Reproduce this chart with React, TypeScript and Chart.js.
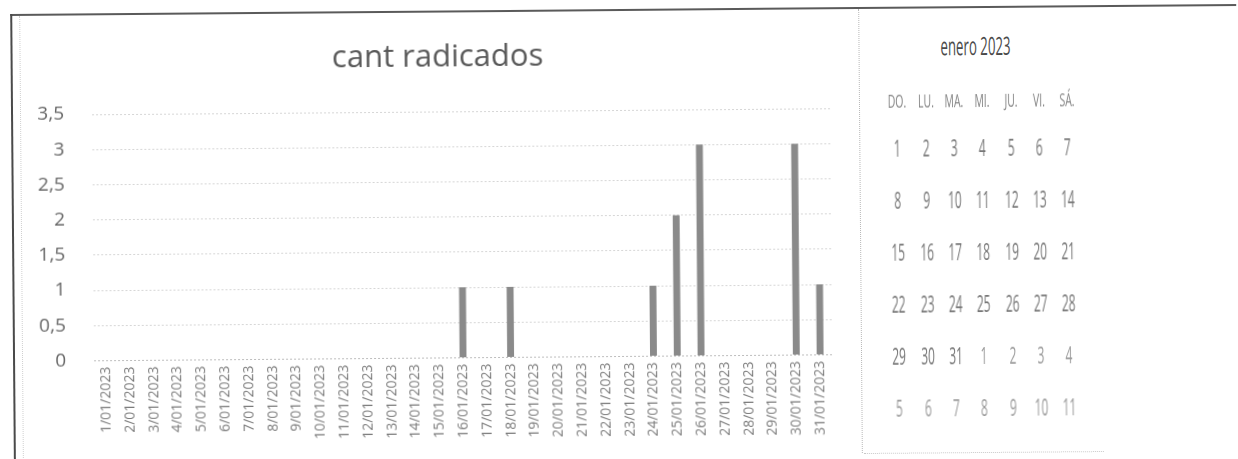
import React, { useEffect, useRef } from "react";
import { Chart, registerables } from "chart.js";

Chart.register(...registerables);

const chartTitle = "cant radicados";
const categories = [
  "1/01/2023", "2/01/2023", "3/01/2023", "4/01/2023", "5/01/2023", "6/01/2023",
  "7/01/2023", "8/01/2023", "9/01/2023", "10/01/2023", "11/01/2023", "12/01/2023",
  "13/01/2023", "14/01/2023", "15/01/2023", "16/01/2023", "17/01/2023", "18/01/2023",
  "19/01/2023", "20/01/2023", "21/01/2023", "22/01/2023", "23/01/2023", "24/01/2023",
  "25/01/2023", "26/01/2023", "27/01/2023", "28/01/2023", "29/01/2023", "30/01/2023",
  "31/01/2023",
];
const values = [
  0, 0, 0, 0, 0, 0, 0, 0, 0, 0, 0, 0, 0, 0, 0, 1, 0, 1, 0, 0, 0, 0, 0, 1, 2, 3, 0, 0, 0, 3, 1,
];
const yMin = 0;
const yMax = 3.5;
const yStep = 0.5;

const calendarTitle = "enero 2023";
const weekDays = ["DO.", "LU.", "MA.", "MI.", "JU.", "VI.", "SÁ."];
const calendarRows = [
  ["1", "2", "3", "4", "5", "6", "7"],
  ["8", "9", "10", "11", "12", "13", "14"],
  ["15", "16", "17", "18", "19", "20", "21"],
  ["22", "23", "24", "25", "26", "27", "28"],
  ["29", "30", "31", "1", "2", "3", "4"],
  ["5", "6", "7", "8", "9", "10", "11"],
];
// true = day belongs to the next month (drawn lighter)
const otherMonth = [
  [false, false, false, false, false, false, false],
  [false, false, false, false, false, false, false],
  [false, false, false, false, false, false, false],
  [false, false, false, false, false, false, false],
  [false, false, false, true, true, true, true],
  [true, true, true, true, true, true, true],
];

const colX = [898, 927, 955, 983, 1012, 1040, 1068];
const rowY = [150, 202, 254, 306, 358, 410];

const FONT = "'Open Sans', 'Noto Sans', sans-serif";

function CondText(props: {
  x: number;
  y: number;
  size: number;
  color: string;
  scale: number;
  children: React.ReactNode;
}) {
  const { x, y, size, color, scale, children } = props;
  return (
    <div
      style={{
        position: "absolute",
        left: x - 100,
        top: y - size * 0.7,
        width: 200,
        height: size * 1.4,
        lineHeight: `${size * 1.4}px`,
        textAlign: "center",
        fontFamily: FONT,
        fontSize: size,
        color,
        whiteSpace: "nowrap",
        transform: `scaleX(${scale})`,
        transformOrigin: "100px 50%",
      }}
    >
      {children}
    </div>
  );
}

const titlePlugin = {
  id: "offsetTitle",
  afterDraw(chart: any) {
    const ctx = chart.ctx;
    ctx.save();
    ctx.font = `31px ${FONT}`;
    ctx.fillStyle = "#595959";
    ctx.textAlign = "center";
    ctx.textBaseline = "middle";
    ctx.fillText(chartTitle, 426, 46);
    ctx.restore();
  },
};

export default function App() {
  const canvasRef = useRef<HTMLCanvasElement | null>(null);

  useEffect(() => {
    if (!canvasRef.current) return;
    const chart = new Chart(canvasRef.current, {
      type: "bar",
      data: {
        labels: categories,
        datasets: [
          {
            data: values,
            backgroundColor: "#8a8a8a",
            borderWidth: 0,
            categoryPercentage: 1,
            barPercentage: 0.29,
          },
        ],
      },
      plugins: [titlePlugin],
      options: {
        animation: false,
        responsive: false,
        layout: { padding: { left: 0, right: 29, top: 100, bottom: 0 } },
        plugins: {
          legend: { display: false },
          tooltip: { enabled: false },
          title: { display: false },
        },
        scales: {
          x: {
            grid: { display: false, drawTicks: false },
            border: { display: false },
            ticks: {
              autoSkip: false,
              minRotation: 90,
              maxRotation: 90,
              padding: 6,
              color: "#7a7a7a",
              font: { family: FONT, size: 14 },
            },
            afterFit: (scale: any) => {
              scale.height = 98.5;
            },
          },
          y: {
            min: yMin,
            max: yMax,
            grid: {
              drawTicks: false,
              color: (ctx: any) => (ctx.tick && ctx.tick.value === 0 ? "#bdbdbd" : "#d6d6d6"),
              lineWidth: 1,
            },
            border: { display: false, dash: [2, 2] },
            ticks: {
              stepSize: yStep,
              padding: 28,
              color: "#666666",
              font: { family: FONT, size: 19 },
              callback: (v: any) => String(v).replace(".", ","),
            },
            afterFit: (scale: any) => {
              scale.width = 80;
            },
          },
        },
      },
    });
    return () => chart.destroy();
  }, []);

  return (
    <div
      style={{
        position: "absolute",
        left: 0,
        top: 0,
        width: 1238,
        height: 459,
        background: "#ffffff",
        overflow: "hidden",
        transform: "rotate(-0.47deg)",
        transformOrigin: "619px 229.5px",
      }}
    >
      {/* top border */}
      <div style={{ position: "absolute", left: 12, top: 9, width: 1240, height: 2, background: "#5a5a5a" }} />
      {/* left border */}
      <div style={{ position: "absolute", left: 12, top: 9, width: 2, height: 470, background: "#4a4a4a" }} />
      {/* inner faint left line */}
      <div style={{ position: "absolute", left: 21, top: 11, width: 0, height: 460, borderLeft: "1px dotted #d0d0d0" }} />
      {/* divider between chart and calendar */}
      <div style={{ position: "absolute", left: 860, top: 11, width: 0, height: 444, borderLeft: "1px dotted #b8b8b8" }} />
      {/* calendar bottom line */}
      <div style={{ position: "absolute", left: 862, top: 455, width: 240, height: 0, borderTop: "1px dotted #c8c8c8" }} />

      <canvas
        ref={canvasRef}
        width={847}
        height={445}
        style={{ position: "absolute", left: 13, top: 10, width: 847, height: 445 }}
      />

      <CondText x={977} y={48} size={25} color="#4a4a4a" scale={0.53}>
        {calendarTitle}
      </CondText>
      {weekDays.map((d, i) => (
        <CondText key={"h" + i} x={colX[i]} y={103} size={19} color="#858585" scale={0.55}>
          {d}
        </CondText>
      ))}
      {calendarRows.map((row, r) =>
        row.map((d, c) => (
          <CondText
            key={`d${r}-${c}`}
            x={colX[c]}
            y={rowY[r]}
            size={24}
            color={otherMonth[r][c] ? "#9c9c9c" : "#777777"}
            scale={0.5}
          >
            {d}
          </CondText>
        ))
      )}
    </div>
  );
}
